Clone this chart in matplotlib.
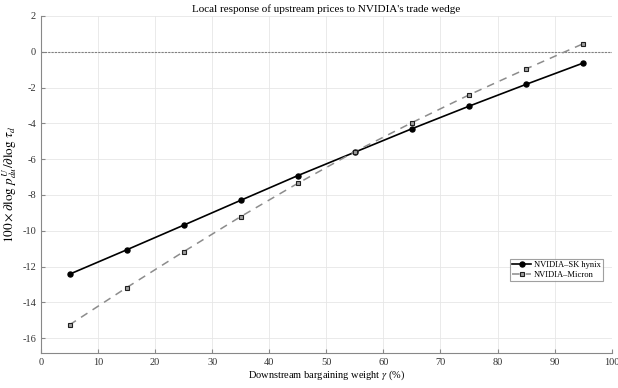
import matplotlib
matplotlib.use('Agg')
import matplotlib.pyplot as plt

plt.rcParams['font.family'] = ['Liberation Serif', 'DejaVu Serif']
plt.rcParams['mathtext.fontset'] = 'stix'
plt.rcParams['axes.unicode_minus'] = False

# ── data ──
gamma = [5, 15, 25, 35, 45, 55, 65, 75, 85, 95]
sk_hynix = [-12.43, -11.07, -9.69, -8.30, -6.92, -5.61, -4.30, -3.04, -1.82, -0.63]
micron = [-15.26, -13.18, -11.17, -9.21, -7.35, -5.58, -3.96, -2.41, -0.96, 0.45]
xticks = list(range(0, 101, 10))
yticks = list(range(-16, 3, 2))

fig = plt.figure(figsize=(6.18, 3.88), dpi=100)
ax = fig.add_axes([0.0663, 0.0894, 0.9235, 0.8694])

ax.axhline(0, color='#808080', lw=0.8, ls=(0, (2, 1)), zorder=1)
ax.plot(gamma, sk_hynix, color='black', lw=1.2, marker='o', ms=3.6,
        mfc='black', mec='black', label='NVIDIA–SK hynix', zorder=3)
ax.plot(gamma, micron, color='#8c8c8c', lw=1.1, ls=(0, (5, 4)), marker='s', ms=2.8,
        mfc='#a0a0a0', mec='#202020', mew=0.8, label='NVIDIA–Micron', zorder=3)

ax.set_xlim(0, 100)
ax.set_ylim(-16.85, 2)
ax.set_xticks(xticks)
ax.set_yticks(yticks)
ax.grid(True, color='#e6e6e6', lw=0.6)
ax.set_axisbelow(True)
for s in ('top', 'right'):
    ax.spines[s].set_visible(False)
for s in ('left', 'bottom'):
    ax.spines[s].set_color('#888888')
    ax.spines[s].set_linewidth(0.8)
ax.tick_params(direction='in', length=3, color='#888888', labelsize=7.5, labelcolor='#333333')

ax.set_title("Local response of upstream prices to NVIDIA's trade wedge", fontsize=8, pad=3)
ax.set_xlabel(r'Downstream bargaining weight $\gamma$ (%)', fontsize=7.5, labelpad=1)
ax.set_ylabel(r'$100\times\partial\log\,p^{U}_{du}/\partial\log\,\tau_d$', fontsize=9.5, labelpad=2)

leg = ax.legend(loc='upper left', bbox_to_anchor=(0.8215, 0.279), fontsize=6.1,
                frameon=True, fancybox=False, borderpad=0.25, handlelength=2.3,
                handletextpad=0.3, labelspacing=0.15, borderaxespad=0)
leg.get_frame().set_edgecolor('#888888')
leg.get_frame().set_linewidth(0.8)

fig.savefig('out.png', dpi=100)
